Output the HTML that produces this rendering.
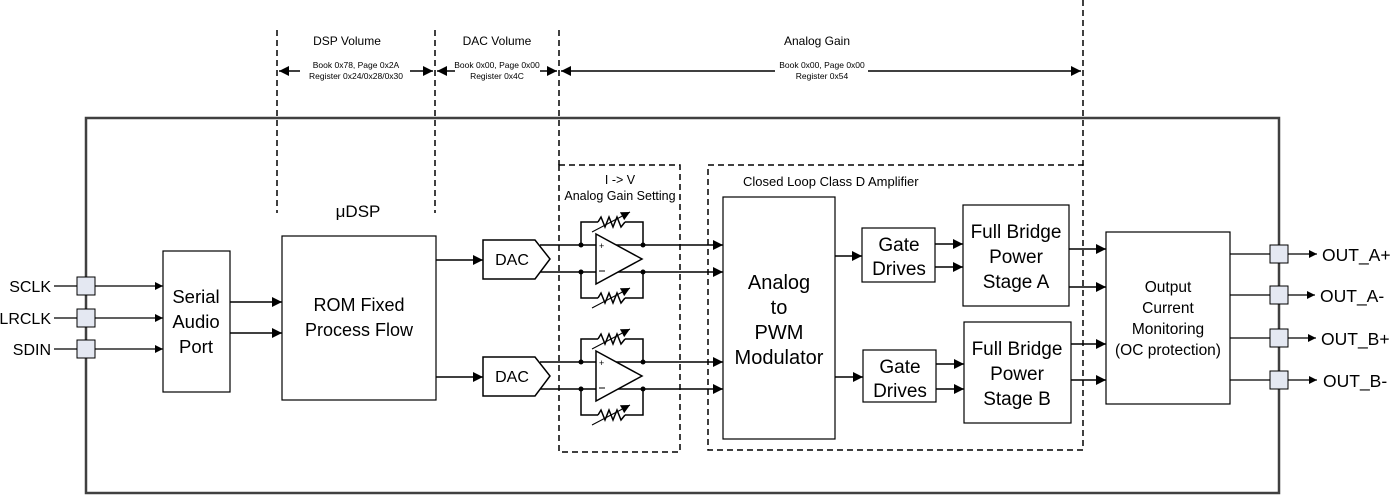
<!DOCTYPE html>
<html><head><meta charset="utf-8"><style>
html,body{margin:0;padding:0;background:#fff;}
svg{display:block;}
text{font-family:"Liberation Sans",sans-serif;fill:#000;}
</style></head><body>
<svg width="1394" height="496" viewBox="0 0 1394 496" xmlns="http://www.w3.org/2000/svg">
<defs>
<marker id="a" viewBox="0 0 10 10" refX="10" refY="5" markerWidth="10" markerHeight="10" markerUnits="userSpaceOnUse" orient="auto"><path d="M0,0L10,5L0,10z" fill="#000"/></marker>
<marker id="as" viewBox="0 0 10 10" refX="10" refY="5" markerWidth="8" markerHeight="8" markerUnits="userSpaceOnUse" orient="auto"><path d="M0,0L10,5L0,10z" fill="#000"/></marker>
<marker id="ar" viewBox="0 0 10 10" refX="10" refY="5" markerWidth="9" markerHeight="9" markerUnits="userSpaceOnUse" orient="auto"><path d="M0,0L10,5L0,10z" fill="#000"/></marker>
<g id="amp">
 <path d="M581,245V222H598M625,222H643V245M581,272V298H598M625,298H643V272" fill="none" stroke="#000" stroke-width="1.5"/>
 <path d="M598,222l3,-5l4,10l4,-10l4,10l4,-10l4,10l4,-5" fill="none" stroke="#000" stroke-width="1.5"/>
 <path d="M598,298l3,-5l4,10l4,-10l4,10l4,-10l4,10l4,-5" fill="none" stroke="#000" stroke-width="1.5"/>
 <line x1="592" y1="232" x2="630" y2="212" stroke="#000" stroke-width="1" marker-end="url(#ar)"/>
 <line x1="592" y1="308" x2="630" y2="288" stroke="#000" stroke-width="1" marker-end="url(#ar)"/>
 <path d="M596,234L642,259L596,284z" fill="#fff" stroke="#000" stroke-width="1.5"/>
 <text x="599" y="249" font-size="9">+</text>
 <line x1="599" y1="271" x2="605" y2="271" stroke="#000" stroke-width="1"/>
 <circle cx="581" cy="245" r="2.5"/><circle cx="643" cy="245" r="2.5"/>
 <circle cx="581" cy="272" r="2.5"/><circle cx="643" cy="272" r="2.5"/>
</g>
</defs>

<rect x="86" y="118" width="1193" height="375" fill="none" stroke="#404040" stroke-width="2.5"/>

<g stroke="#000" stroke-width="1.5" stroke-dasharray="6,4" fill="none">
<line x1="277" y1="30" x2="277" y2="213"/>
<line x1="435" y1="30" x2="435" y2="213"/>
<line x1="559" y1="30" x2="559" y2="165"/>
<line x1="1083" y1="0" x2="1083" y2="165"/>
<rect x="559" y="165" width="121" height="287"/>
<rect x="708" y="165" width="375" height="285"/>
</g>

<g stroke="#000" stroke-width="1.5">
<line x1="300" y1="71" x2="279" y2="71" marker-end="url(#a)"/><line x1="410" y1="71" x2="433" y2="71" marker-end="url(#a)"/>
<line x1="455" y1="71" x2="437" y2="71" marker-end="url(#a)"/><line x1="540" y1="71" x2="557" y2="71" marker-end="url(#a)"/>
<line x1="775" y1="71" x2="561" y2="71" marker-end="url(#a)"/><line x1="868" y1="71" x2="1081" y2="71" marker-end="url(#a)"/>
</g>
<g font-size="12" text-anchor="middle">
<text x="347" y="45">DSP Volume</text>
<text x="497" y="45">DAC Volume</text>
<text x="817" y="45">Analog Gain</text>
</g>
<g font-size="8.5" text-anchor="middle">
<rect x="300" y="62" width="110" height="20" fill="#fff"/>
<text x="356" y="68">Book 0x78, Page 0x2A</text>
<text x="356" y="79">Register 0x24/0x28/0x30</text>
<rect x="455" y="62" width="85" height="20" fill="#fff"/>
<text x="497" y="68">Book 0x00, Page 0x00</text>
<text x="497" y="79">Register 0x4C</text>
<text x="822" y="68">Book 0x00, Page 0x00</text>
<text x="822" y="79">Register 0x54</text>
</g>

<g font-size="16" text-anchor="end">
<text x="51" y="292">SCLK</text>
<text x="51" y="324">LRCLK</text>
<text x="51" y="355">SDIN</text>
</g>
<g stroke="#000" stroke-width="1.2">
<line x1="54" y1="286" x2="77" y2="286"/><line x1="54" y1="318" x2="77" y2="318"/><line x1="54" y1="349" x2="77" y2="349"/>
<line x1="95" y1="286" x2="163" y2="286" marker-end="url(#as)"/>
<line x1="95" y1="318" x2="163" y2="318" marker-end="url(#as)"/>
<line x1="95" y1="349" x2="163" y2="349" marker-end="url(#as)"/>
</g>
<g fill="#e4e8f2" stroke="#000" stroke-width="1">
<rect x="77" y="277" width="18" height="18"/><rect x="77" y="309" width="18" height="18"/><rect x="77" y="340" width="18" height="18"/>
</g>

<rect x="163" y="251" width="67" height="141" fill="#fff" stroke="#000" stroke-width="1.2"/>
<g font-size="18.5" text-anchor="middle"><text x="196" y="303">Serial</text><text x="196" y="328">Audio</text><text x="196" y="353">Port</text></g>
<g stroke="#000" stroke-width="1.5">
<line x1="230" y1="302" x2="282" y2="302" marker-end="url(#a)"/>
<line x1="230" y1="333" x2="282" y2="333" marker-end="url(#a)"/>
</g>

<text x="358" y="217" font-size="17" text-anchor="middle">μDSP</text>
<rect x="282" y="236" width="154" height="164" fill="#fff" stroke="#000" stroke-width="1.2"/>
<g font-size="18" text-anchor="middle"><text x="359" y="311">ROM Fixed</text><text x="359" y="336">Process Flow</text></g>
<g stroke="#000" stroke-width="1.5">
<line x1="436" y1="260" x2="483" y2="260" marker-end="url(#a)"/>
<line x1="436" y1="377" x2="483" y2="377" marker-end="url(#a)"/>
</g>

<path d="M483,240H535L550,259L535,279H483z" fill="#fff" stroke="#000" stroke-width="1.5"/>
<path d="M483,357H535L550,376L535,396H483z" fill="#fff" stroke="#000" stroke-width="1.5"/>
<g font-size="16" text-anchor="middle"><text x="512" y="265">DAC</text><text x="512" y="382">DAC</text></g>

<g stroke="#000" stroke-width="1.5">
<line x1="540" y1="245" x2="723" y2="245" marker-end="url(#a)"/>
<line x1="540" y1="272" x2="723" y2="272" marker-end="url(#a)"/>
<line x1="540" y1="362" x2="723" y2="362" marker-end="url(#a)"/>
<line x1="540" y1="389" x2="723" y2="389" marker-end="url(#a)"/>
</g>
<use href="#amp"/>
<use href="#amp" transform="translate(0,117)"/>
<g font-size="12.5" text-anchor="middle"><text x="620" y="184">I -&gt; V</text><text x="620" y="200">Analog Gain Setting</text></g>
<text x="743" y="186" font-size="13">Closed Loop Class D Amplifier</text>

<rect x="723" y="197" width="112" height="242" fill="#fff" stroke="#000" stroke-width="1.2"/>
<g font-size="20" text-anchor="middle"><text x="779" y="289">Analog</text><text x="779" y="314">to</text><text x="779" y="339">PWM</text><text x="779" y="364">Modulator</text></g>

<g fill="#fff" stroke="#000" stroke-width="1.2">
<rect x="862" y="228" width="73" height="54"/><rect x="863" y="350" width="73" height="52"/>
<rect x="963" y="205" width="106" height="101"/><rect x="964" y="322" width="107" height="101"/>
<rect x="1106" y="232" width="124" height="172"/>
</g>
<g font-size="19" text-anchor="middle">
<text x="899" y="251">Gate</text><text x="899" y="275">Drives</text>
<text x="900" y="373">Gate</text><text x="900" y="397">Drives</text>
<text x="1016" y="238">Full Bridge</text><text x="1016" y="263">Power</text><text x="1016" y="288">Stage A</text>
<text x="1017" y="355">Full Bridge</text><text x="1017" y="380">Power</text><text x="1017" y="405">Stage B</text>
</g>
<g font-size="15.5" text-anchor="middle">
<text x="1168" y="292">Output</text><text x="1168" y="313">Current</text><text x="1168" y="334">Monitoring</text><text x="1168" y="355">(OC protection)</text>
</g>
<g stroke="#000" stroke-width="1.5">
<line x1="835" y1="256" x2="862" y2="256" marker-end="url(#a)"/>
<line x1="835" y1="377" x2="863" y2="377" marker-end="url(#a)"/>
<line x1="935" y1="244" x2="963" y2="244" marker-end="url(#a)"/>
<line x1="935" y1="267" x2="963" y2="267" marker-end="url(#a)"/>
<line x1="936" y1="364" x2="964" y2="364" marker-end="url(#a)"/>
<line x1="936" y1="389" x2="964" y2="389" marker-end="url(#a)"/>
<line x1="1069" y1="249" x2="1106" y2="249" marker-end="url(#a)"/>
<line x1="1069" y1="287" x2="1106" y2="287" marker-end="url(#a)"/>
<line x1="1071" y1="344" x2="1106" y2="344" marker-end="url(#a)"/>
<line x1="1071" y1="380" x2="1106" y2="380" marker-end="url(#a)"/>
</g>

<g stroke="#000" stroke-width="1.2">
<line x1="1230" y1="254" x2="1270" y2="254"/><line x1="1230" y1="295" x2="1270" y2="295"/>
<line x1="1230" y1="338" x2="1270" y2="338"/><line x1="1230" y1="380" x2="1270" y2="380"/>
<line x1="1288" y1="254" x2="1317" y2="254" marker-end="url(#as)"/>
<line x1="1288" y1="295" x2="1315" y2="295" marker-end="url(#as)"/>
<line x1="1288" y1="338" x2="1316" y2="338" marker-end="url(#as)"/>
<line x1="1288" y1="380" x2="1317" y2="380" marker-end="url(#as)"/>
</g>
<g fill="#e4e8f2" stroke="#000" stroke-width="1">
<rect x="1270" y="245" width="18" height="18"/><rect x="1270" y="286" width="18" height="18"/>
<rect x="1270" y="329" width="18" height="18"/><rect x="1270" y="371" width="18" height="18"/>
</g>
<g font-size="17.5">
<text x="1322" y="261">OUT_A+</text><text x="1320" y="302">OUT_A-</text>
<text x="1321" y="345">OUT_B+</text><text x="1323" y="387">OUT_B-</text>
</g>
</svg>
</body></html>
